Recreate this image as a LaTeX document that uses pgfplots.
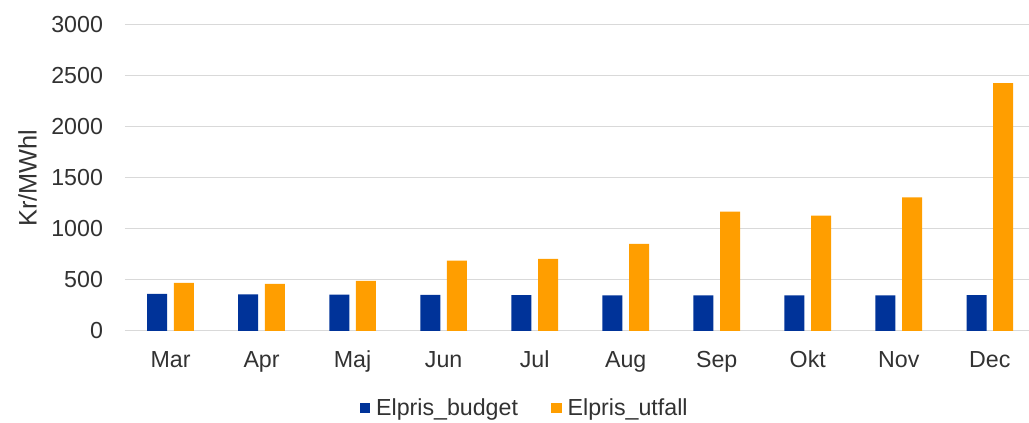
\documentclass[border=0pt]{standalone}
\usepackage{pgfplots}
\pgfplotsset{compat=1.18}
\usepackage{fontspec}
\setmainfont{Liberation Sans}
\definecolor{budget}{RGB}{0,51,153}
\definecolor{utfall}{RGB}{255,158,0}
\definecolor{gridgray}{RGB}{217,217,217}
\definecolor{txt}{RGB}{50,50,50}
\begin{document}
\begin{tikzpicture}
\useasboundingbox (0,0) rectangle (771.75pt,317.25pt);
\begin{axis}[
  at={(93.75pt,69pt)},
  anchor=south west,
  scale only axis,
  width=678pt,
  height=229.5pt,
  ybar=5pt,
  bar width=15pt,
  xmin=-0.5, xmax=9.43,
  ymin=0, ymax=3000,
  ytick={0,500,...,3000},
  xtick=data,
  xticklabels={Mar,Apr,Maj,Jun,Jul,Aug,Sep,Okt,Nov,Dec},
  axis line style={draw=none},
  major tick length=0pt,
  ymajorgrids,
  grid style={gridgray, line width=0.75pt},
  tick label style={font=\fontsize{17.4}{20}\selectfont, text=txt},
  yticklabel style={xshift=-13pt},
  xticklabel style={yshift=-11.5pt, text height=12.5pt, text depth=4pt},
  /pgf/number format/assume math mode=true,
  /pgf/number format/set thousands separator={},
  ylabel={Kr/MWhl},
  ylabel style={font=\fontsize{19}{22}\selectfont, text=txt, yshift=4pt},
  legend style={draw=none, at={(0.4425,-0.252)}, anchor=center,
    font=\fontsize{17.4}{20}\selectfont, text=txt,
    legend columns=2, /tikz/every even column/.append style={column sep=23pt}},
  legend image code/.code={\fill[#1] (0pt,-4pt) rectangle (8pt,4pt); \path (10.25pt,0pt);},
]
\addplot[fill=budget, draw=none] coordinates {
  (0,365) (1,360) (2,357) (3,355) (4,352) (5,350) (6,350) (7,350) (8,350) (9,352)};
\addplot[fill=utfall, draw=none] coordinates {
  (0,472) (1,462) (2,492) (3,690) (4,707) (5,855) (6,1170) (7,1130) (8,1310) (9,2430)};
\legend{Elpris\_budget, Elpris\_utfall}
\end{axis}
\end{tikzpicture}
\end{document}
